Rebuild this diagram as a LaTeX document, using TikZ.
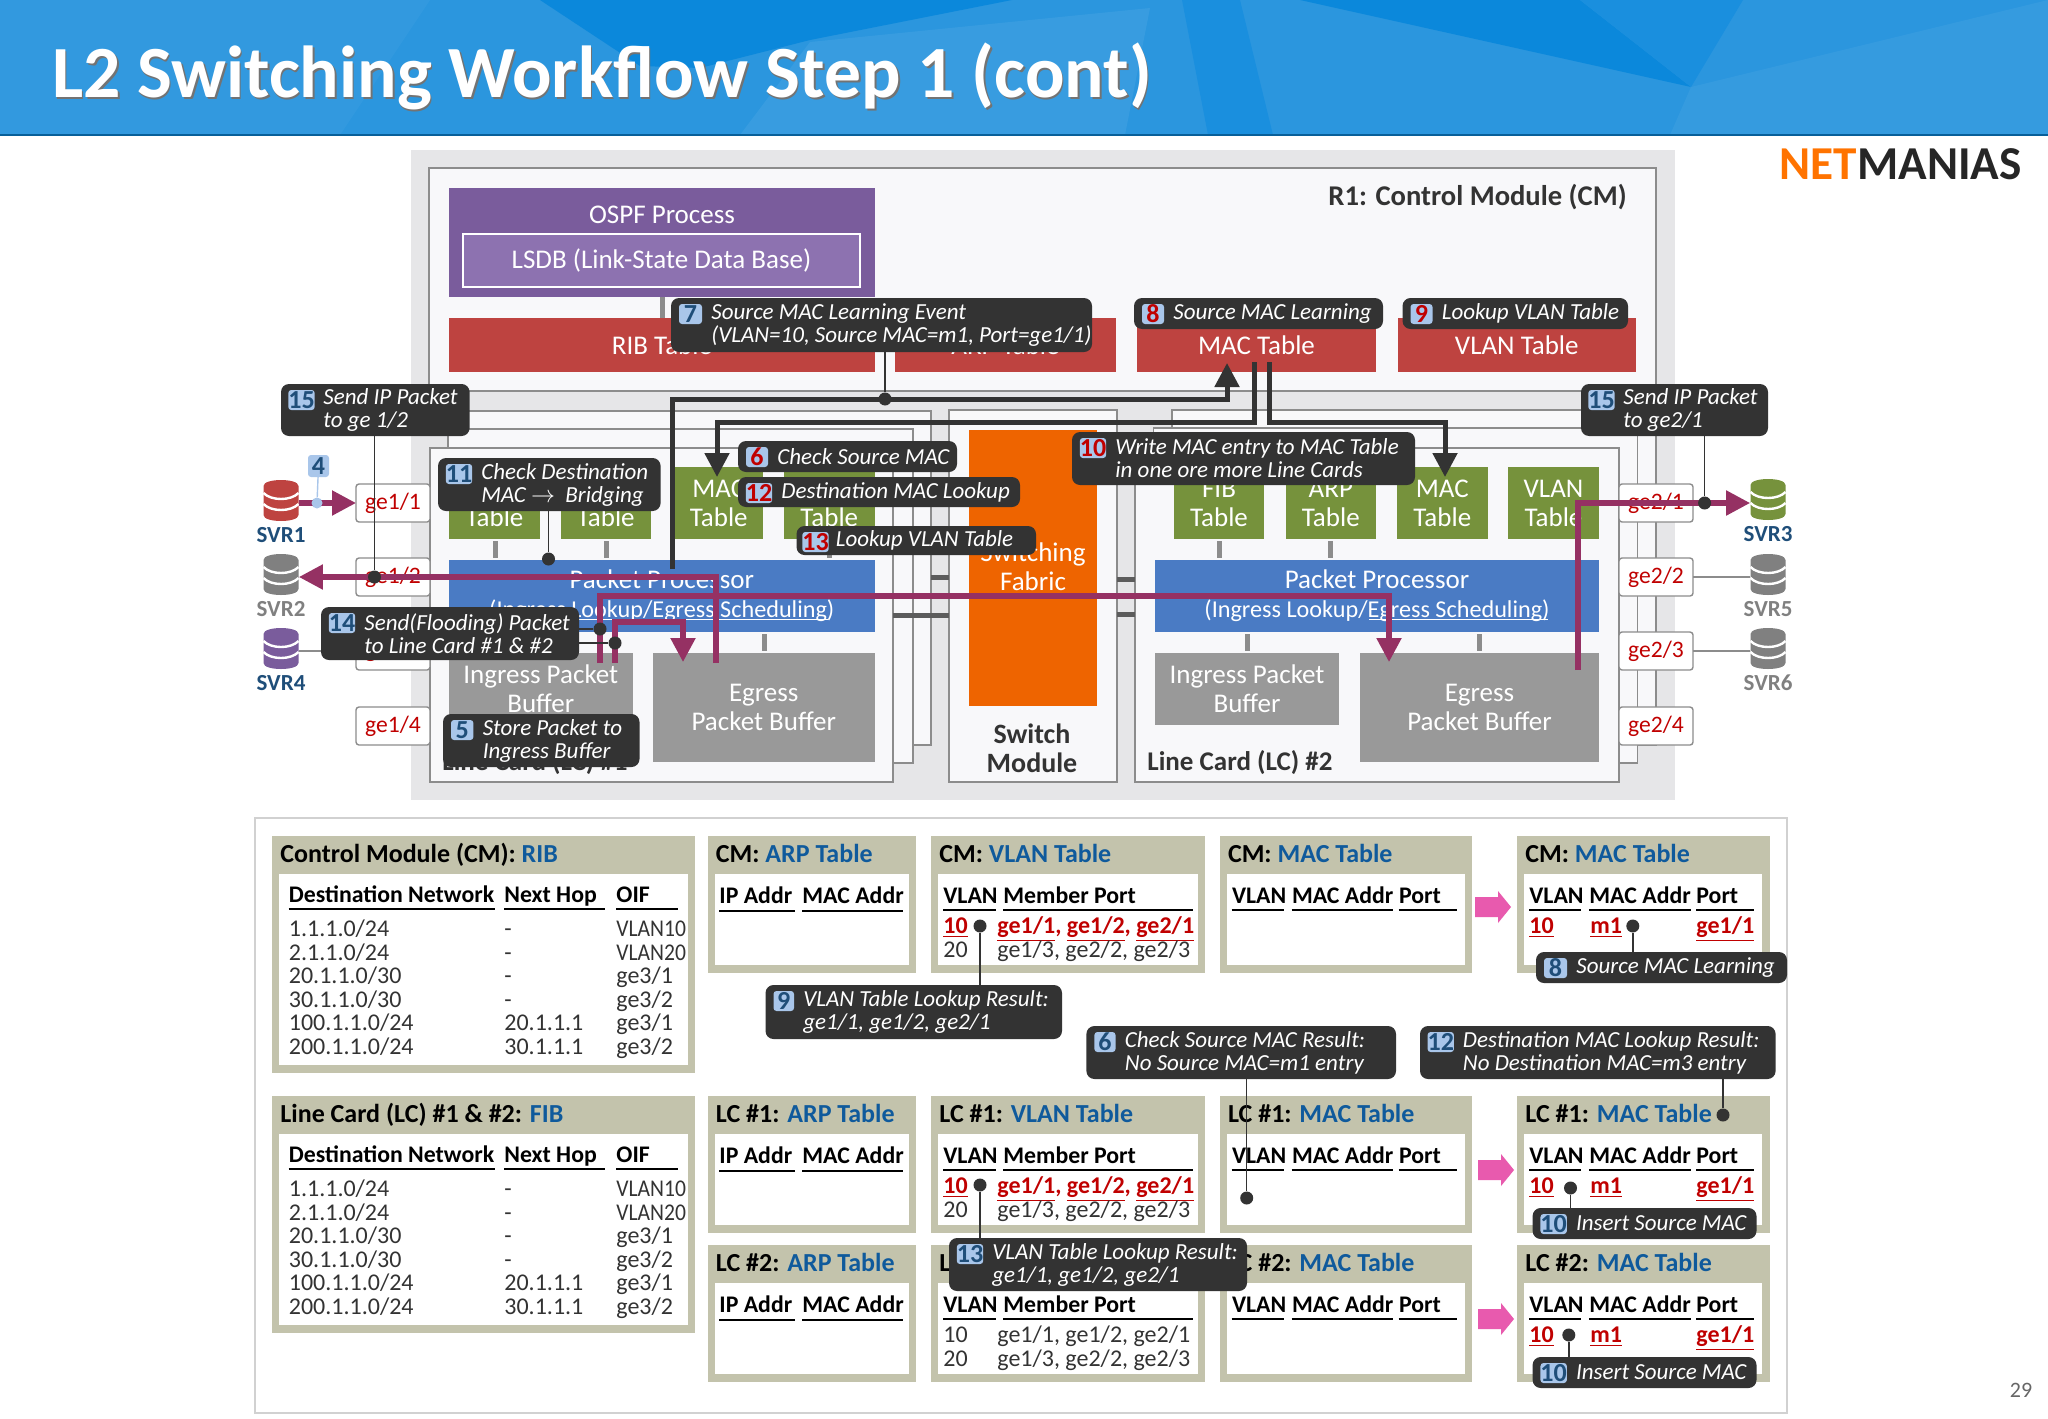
\documentclass[tikz,border=0pt]{standalone}
\usepackage{fontspec}
\setmainfont{Carlito}
\usepackage{graphicx}
\usepackage{tikz}
\usetikzlibrary{arrows.meta, positioning, calc}
\usepackage{xcolor}
\definecolor{hdrblue}{HTML}{2B96DE}
\definecolor{hdrdark}{HTML}{0B88DB}
\definecolor{hdrmid}{HTML}{1A8FDE}
\definecolor{hdrlight}{HTML}{48A5E3}
\definecolor{panelgray}{HTML}{E6E6E8}
\definecolor{cardwhite}{HTML}{F8F8FA}
\definecolor{edgegray}{HTML}{8C8C8C}
\definecolor{ospfpurple}{HTML}{7A5C9C}
\definecolor{lsdbpurple}{HTML}{8D72B0}
\definecolor{tablered}{HTML}{BE4340}
\definecolor{tablegreen}{HTML}{76923C}
\definecolor{procblue}{HTML}{4A7BC4}
\definecolor{buffergray}{HTML}{999999}
\definecolor{fabricorange}{HTML}{EE6400}
\definecolor{flowpink}{HTML}{953163}
\definecolor{coldark}{HTML}{333333}
\definecolor{badgeblue}{HTML}{A9C6EA}
\definecolor{numblue}{HTML}{1F4E79}
\definecolor{numred}{HTML}{C00000}
\definecolor{paneltan}{HTML}{C3C3AC}
\definecolor{titleblue}{HTML}{0F5A9C}
\definecolor{arrowpink}{HTML}{E85AAE}
\tikzset{
  blkbase/.style={inner sep=0pt, outer sep=0pt, align=center},
  card/.style={draw=edgegray, line width=0.8pt, fill=cardwhite},
  whitetxt/.style={text=white, font=\fontsize{13.5}{14.5}\selectfont},
  redblk/.style={fill=tablered, whitetxt},
  greenblk/.style={fill=tablegreen, whitetxt},
  procblk/.style={fill=procblue, whitetxt},
  bufblk/.style={fill=buffergray, whitetxt},
  portbox/.style={draw=edgegray, line width=0.7pt, fill=white, rounded corners=1.5pt, text=numred, font=\fontsize{11.8}{14}\selectfont},
  stub/.style={draw=edgegray, line width=2.5pt},
  bar/.style={draw=coldark!80, line width=2.5pt},
  flow/.style={draw=flowpink, line width=2.6pt},
  flowtip/.style={-{Triangle[length=12pt, width=12pt]}},
  ctl/.style={draw=coldark, line width=2.5pt},
  ctltip/.style={-{Triangle[length=12pt, width=12pt]}},
  leader/.style={draw=coldark, line width=0.7pt},
  dot/.style={circle, fill=coldark, inner sep=0pt, minimum size=6.5pt},
  coltxt/.style={inner sep=0pt, anchor=base west, yshift=-3.75pt, font=\fontsize{12}{12}\selectfont, text=coldark},
  headtxt/.style={inner sep=0pt, anchor=base west, yshift=-3.75pt, font=\fontsize{11.9}{12}\selectfont\bfseries, text=black},
  redtxt/.style={inner sep=0pt, anchor=base west, yshift=-3.75pt, font=\fontsize{12}{12}\selectfont\bfseries, text=numred},
  headrule/.style={draw=black, line width=1.2pt},
  svrlabel/.style={inner sep=0pt, font=\fontsize{11.5}{12}\selectfont\bfseries},
  tabletitle/.style={inner sep=0pt, anchor=base west, yshift=-4pt, font=\fontsize{13}{14}\selectfont\bfseries, text=black},
}
\newcommand{\blk}[7][]{%
  \node[blkbase, minimum width={(#5-(#3))*0.5pt}, minimum height={(#6-(#4))*0.5pt}, #1]
    (#2) at ({(#3+#5)/2},{(#4+#6)/2}) {#7};}
\newcommand{\callout}[9]{%
  \blk[fill=coldark, rounded corners=4pt]{#1}{#2}{#3}{#4}{#5}{}
  \blk[fill=badgeblue, rounded corners=1.5pt, text=#6, font=\fontsize{13}{13}\selectfont\bfseries]{#1n}{#2+8}{#3+6}{#8-9}{#3+26}{#7}
  \node[inner sep=0pt, anchor=west, align=left, text=white, font=\fontsize{11.5}{11.5}\selectfont\itshape] (#1t) at (#8,{(#3+#5)/2}) {#9};}
\newcommand{\svr}[5]{%
  \node[inner sep=0pt, minimum width=17.5pt, minimum height=20.5pt] (#1) at (#2,#3+20.5) {};
  \fill[#4] (#2-17.5,#3+6) -- (#2-17.5,#3+35) .. controls (#2-17.5,#3+43) and (#2+17.5,#3+43) .. (#2+17.5,#3+35)
    -- (#2+17.5,#3+6) .. controls (#2+17.5,#3-2) and (#2-17.5,#3-2) .. cycle;
  \foreach \bd in {13,24}{
    \draw[white, line width=1.2pt] (#2-17.5,#3+\bd) .. controls (#2-10,#3+\bd+8) and (#2+10,#3+\bd+8) .. (#2+17.5,#3+\bd);
  }
  \node[svrlabel, text=#5] (#1l) at (#2,#3+55) {\MakeUppercase{#1}};}
\newcommand{\tpanel}[6]{%
  \blk[fill=paneltan]{#1}{#2}{#3}{#4}{#3+#5}{}
  \blk[fill=white]{#1in}{#2+7}{#3+38}{#4-7.5}{#3+#5-8}{}
  \node[tabletitle] (#1ttl) at (#2+8,#3+18.5) {#6};}
\newcommand{\arptable}[3]{%
  \tpanel{#1}{707.5}{#2}{916}{137}{#3: \textcolor{titleblue}{ARP Table}}
  \node[headtxt] (#1ha) at (719,#2+60) {IP Addr};
  \node[headtxt] (#1hb) at (802,#2+60) {MAC Addr};
  \draw[headrule] (719,#2+75) -- (795,#2+75) (802,#2+75) -- (903,#2+75);}
\newcommand{\vlantable}[5]{%
  \tpanel{#1}{931}{#2}{1205}{137}{#3: \textcolor{titleblue}{VLAN Table}}
  \node[headtxt] (#1ha) at (943,#2+60) {VLAN};
  \node[headtxt] (#1hb) at (1003,#2+60) {Member Port};
  \draw[headrule] (943,#2+74) -- (996,#2+74) (1003,#2+74) -- (1193,#2+74);
  \node[#4] (#1ra) at (943,#2+90) {#5{10}};
  \node[#4] (#1rb) at (997,#2+90) {#5{ge1/1}, #5{ge1/2}, #5{ge2/1}};
  \node[coltxt] (#1rc) at (943,#2+114) {20};
  \node[coltxt] (#1rd) at (997,#2+114) {ge1/3, ge2/2, ge2/3};}
\newcommand{\mactable}[4]{%
  \tpanel{#1}{#2}{#3}{#2+252.5}{137}{#4: \textcolor{titleblue}{MAC Table}}
  \node[headtxt] (#1ha) at (#2+12,#3+60) {VLAN};
  \node[headtxt] (#1hb) at (#2+72,#3+60) {MAC Addr};
  \node[headtxt] (#1hc) at (#2+179,#3+60) {Port};
  \draw[headrule] (#2+12,#3+74) -- (#2+64,#3+74) (#2+72,#3+74) -- (#2+173.5,#3+74) (#2+179,#3+74) -- (#2+237,#3+74);}
\newcommand{\macentry}[3]{%
  \node[redtxt] (#1ra) at (#2+12,#3+90) {\underline{10}};
  \node[redtxt] (#1rb) at (#2+73,#3+90) {\underline{m1}};
  \node[redtxt] (#1rc) at (#2+179,#3+90) {\underline{ge1/1}};}
\newcommand{\pinkarrow}[3]{%
  \fill[arrowpink] (#2,#3+6) -- (#2+23,#3+6) -- (#2+23,#3) -- (#2+36,#3+16) -- (#2+23,#3+32) -- (#2+23,#3+26) -- (#2,#3+26) -- cycle;
  \coordinate (#1) at (#2,#3);}
\begin{document}
\begin{tikzpicture}[x=0.5pt, y=-0.5pt]
  \useasboundingbox (0,0) rectangle (2048,1418);
  % title band
  \fill[hdrblue] (0,0) rectangle (2048,135);
  \fill[hdrlight, opacity=.45] (810,42) -- (1150,8) -- (1125,135) -- (740,135) -- cycle;
  \fill[hdrdark] (540,0) -- (1012,0) -- (810,40) -- (700,68) -- (640,66) -- cycle;
  \fill[hdrmid] (1182,0) -- (1240,0) -- (1273,135) -- (1208,135) -- cycle;
  \fill[hdrdark] (1300,0) -- (1580,0) -- (1691,87) -- cycle;
  \fill[hdrmid] (1580,0) -- (1743,0) -- (1691,87) -- cycle;
  \fill[hdrlight, opacity=.35] (1691,87) -- (2048,0) -- (2048,135) -- (1670,135) -- cycle;
  \fill[hdrlight, opacity=.25] (0,0) -- (430,0) -- (340,135) -- (0,135) -- cycle;
  \draw[hdrdark!70!black, line width=0.6pt] (0,135) -- (2048,135);
  \node[inner sep=0pt, anchor=west, text=black!55, font=\fontsize{36.8}{38}\selectfont\bfseries] (titleshadow) at (53.5,78) {L2 Switching Workflow Step 1 (cont)};
  \node[inner sep=0pt, anchor=west, text=white, font=\fontsize{36.8}{38}\selectfont\bfseries] (title) at (52,76) {L2 Switching Workflow Step 1 (cont)};
  \node[inner sep=0pt, anchor=east, font=\fontsize{23.6}{24}\selectfont\bfseries] (logo) at (2022,164) {\textcolor{orange!90!red}{NET}\textcolor{black!85}{MANIAS}};
  \node[inner sep=0pt, text=black!60, font=\fontsize{11}{12}\selectfont] (pageno) at (2021,1390) {29};
  % router panel
  \fill[panelgray] (411,150) rectangle (1675,800);
  \blk[card]{cm}{429}{168}{1656}{391}{}
  \node[inner sep=0pt, anchor=east, text=coldark, font=\fontsize{14.3}{15}\selectfont\bfseries] (cmlabel) at (1627,197) {R1: Control Module (CM)};
  \blk[fill=ospfpurple]{ospf}{449}{188}{875}{297}{}
  \node[inner sep=0pt, whitetxt] (ospft) at (662,215) {OSPF Process};
  \blk[fill=lsdbpurple, draw=white, line width=0.8pt, whitetxt]{lsdb}{463}{234}{860}{287}{LSDB (Link-State Data Base)}
  \draw[stub] (662,297) -- (662,318);
  \foreach \nm/\xa/\xb/\tx in {rib/449/875/RIB Table, arp/895/1116/ARP Table, mact/1137/1376/MAC Table, vlant/1397.5/1636/VLAN Table}{
    \blk[redblk]{\nm}{\xa}{318}{\xb}{372}{\tx}
  }
  % stacked line cards
  \blk[card]{lca}{466}{411}{931}{745}{}
  \blk[card]{lcb}{448}{429}{913}{763}{}
  \blk[card]{lcc}{1172}{410}{1656}{745}{}
  \blk[card]{lcd}{1153.5}{428}{1637.5}{763}{}
  \blk[card]{sw}{949}{410}{1117}{782}{}
  \blk[card]{lc1}{430}{448}{893}{782}{}
  \blk[card]{lc2}{1135}{448}{1619}{782}{}
  \foreach \xa/\xb/\yy in {931/949/577, 893/949/615, 1117/1135/579, 1117/1135/614}{
    \draw[bar] (\xa,\yy) -- (\xb,\yy);
  }
  % ports
  \foreach \n/\yy in {1/484, 2/558, 3/632, 4/707}{
    \blk[portbox]{pa\n}{356}{\yy}{430}{\yy+38}{ge1/\n}
    \blk[portbox]{pb\n}{1619}{\yy}{1693}{\yy+38}{ge2/\n}
  }
  % switch module
  \blk[fill=fabricorange]{fabric}{969}{430}{1097}{706}{}
  \node[inner sep=0pt, align=center, whitetxt] (fabrict) at (1033,567) {Switching\\Fabric};
  \node[inner sep=0pt, align=center, text=coldark, font=\fontsize{14}{14.5}\selectfont\bfseries] (swlabel) at (1032,748) {Switch\\Module};
  % line card #1
  \foreach \nm/\xa/\xb/\tx in {fiba/449/540/FIB, arpa/560.5/651/ARP, maca/675/762.5/MAC, vlana/784/874.5/VLAN}{
    \blk[greenblk]{\nm}{\xa}{467}{\xb}{539}{\tx\\Table}
  }
  \foreach \xa in {495,606,829}{
    \draw[stub] (\xa,541) -- (\xa,558);
  }
  \blk[procblk]{ppa}{449}{560}{874.5}{632}{Packet Processor\\\fontsize{12.1}{14.5}\selectfont(Ingress Lookup/Egress Scheduling)}
  \foreach \xa in {541,764}{
    \draw[stub] (\xa,634) -- (\xa,651);
  }
  \blk[bufblk]{iba}{449}{653}{632.5}{725}{Ingress Packet\\Buffer}
  \blk[bufblk]{eba}{653}{653}{874.5}{762}{Egress\\Packet Buffer}
  \node[inner sep=0pt, anchor=west, text=coldark, font=\fontsize{13.5}{14}\selectfont\bfseries] (lc1label) at (442,763) {Line Card (LC) \#1};
  % line card #2
  \foreach \nm/\xa/\xb/\tx in {fibb/1174/1264/FIB, arpb/1285.6/1376/ARP, macb/1397/1487.6/MAC, vlanb/1508/1599/VLAN}{
    \blk[greenblk]{\nm}{\xa}{467}{\xb}{539}{\tx\\Table}
  }
  \foreach \xa in {1219.6,1330}{
    \draw[stub] (\xa,541) -- (\xa,558);
  }
  \blk[procblk]{ppb}{1155}{560}{1599}{632}{Packet Processor\\\fontsize{12.1}{14.5}\selectfont(Ingress Lookup/Egress Scheduling)}
  \foreach \xa in {1247,1479.6}{
    \draw[stub] (\xa,634) -- (\xa,651);
  }
  \blk[bufblk]{ibb}{1155}{653}{1339}{725}{Ingress Packet\\Buffer}
  \blk[bufblk]{ebb}{1360}{653}{1599}{762}{Egress\\Packet Buffer}
  \node[inner sep=0pt, anchor=west, text=coldark, font=\fontsize{13.5}{14}\selectfont\bfseries] (lc2label) at (1147,763) {Line Card (LC) \#2};
  \draw[white, line width=0.5pt] (575,619) -- (828,619) (1369,619) -- (1548,619);
  % servers
  \svr{svr1}{281}{480}{tablered}{numblue}
  \svr{svr2}{281}{554}{black!50}{black!50}
  \svr{svr4}{281}{628}{ospfpurple}{numblue}
  \svr{svr3}{1768}{479}{tablegreen}{numblue}
  \svr{svr5}{1768}{554}{black!50}{black!50}
  \svr{svr6}{1768}{628}{black!50}{black!50}
  \draw[edgegray, line width=0.7pt] (svr4.east |- pa3) -- (pa3.west);
  \draw[edgegray, line width=0.7pt] (pb2.east) -- (svr5.west |- pb2);
  \draw[edgegray, line width=0.7pt] (pb3.east) -- (svr6.west |- pb3);
  % control paths
  \coordinate (evtout) at (672,569);
  \coordinate (macina) at (717,477);
  \coordinate (macinb) at (1445,477);
  \coordinate (macup) at (1227,363);
  \coordinate (macouta) at (1254,362);
  \coordinate (macoutb) at (1269,362);
  \draw[ctl, ctltip] (evtout) -- (672,399) -- (1227,399) -- (macup);
  \draw[ctl, ctltip] (macouta) -- (1254,422) -- (717,422) -- (macina);
  \draw[ctl, ctltip] (macoutb) -- (1269,422) -- (1445,422) -- (macinb);
  % packet flows
  \coordinate (srca) at (716,663);
  \coordinate (srcb) at (600,663);
  \coordinate (srcc) at (615,663);
  \coordinate (srcd) at (1578,670);
  \coordinate (dsta) at (1389,662);
  \coordinate (dstb) at (683,662);
  \draw[flow, flowtip] (svr1.east |- pa1) -- (pa1.west);
  \draw[flow, flowtip] (srca) -- (716,577) -- (svr2.east |- pa2);
  \draw[flow, flowtip] (srcb) -- (600,596) -- (1389,596) -- (dsta);
  \draw[flow, flowtip] (srcc) -- (615,622) -- (683,622) -- (dstb);
  \draw[flow, flowtip] (srcd) -- (1578,503) -- (svr3.west |- pb1);
  % step 4
  \blk[fill=badgeblue, rounded corners=1.5pt, text=numblue, font=\fontsize{13}{13}\selectfont\bfseries]{stepf}{308}{455}{329}{477}{4}
  \node[circle, fill=badgeblue, inner sep=0pt, minimum size=5.5pt] (stepfd) at (317,503) {};
  \draw[badgeblue, line width=0.7pt] (stepf) -- (stepfd);
  % callouts on the router
  \callout{cfifl}{281}{384}{469.6}{436}{numblue}{15}{323}{Send IP Packet\\to ge 1/2}
  \callout{cfifr}{1581}{384}{1768}{436}{numblue}{15}{1623}{Send IP Packet\\to ge2/1}
  \callout{celev}{438}{458}{660.6}{511}{numblue}{11}{481}{Check Destination\\MAC $\rightarrow$ \ Bridging}
  \callout{csix}{738}{441}{957}{472}{numred}{6}{777}{Check Source MAC}
  \callout{ctwe}{738}{477}{1020}{507}{numred}{12}{781}{Destination MAC Lookup}
  \callout{cthi}{796.5}{526}{1036}{555}{numred}{13}{835.5}{Lookup VLAN Table}
  \callout{cfou}{321}{607}{579}{660}{numblue}{14}{364}{Send(Flooding) Packet\\to Line Card \#1 \& \#2}
  \callout{cfiv}{443}{714}{639.5}{767}{numblue}{5}{482.4}{Store Packet to\\Ingress Buffer}
  \callout{cten}{1072}{432}{1415}{485}{numred}{10}{1115}{Write MAC entry to MAC Table\\in one ore more Line Cards}
  \callout{csev}{671}{298}{1092}{352}{numblue}{7}{711}{Source MAC Learning Event\\(VLAN=10, Source MAC=m1, Port=ge1/1)}
  \callout{ceig}{1134}{298}{1383}{329}{numred}{8}{1173}{Source MAC Learning}
  \callout{cnin}{1402.5}{298}{1628}{329}{numred}{9}{1441.5}{Lookup VLAN Table}
  \foreach \nm/\xa/\yy in {dfifl/374.5/577, dfifr/1704.6/503, delev/548.5/559, dsev/885/399, dfoua/600/629, dfoub/615/643}{
    \node[dot] (\nm) at (\xa,\yy) {};
  }
  \draw[leader] (dfifl) -- (dfifl |- cfifl.south);
  \draw[leader] (dfifr) -- (dfifr |- cfifr.south);
  \draw[leader] (delev) -- (delev |- celev.south);
  \draw[leader] (dsev) -- (dsev |- csev.south);
  \draw[leader] (dfoua) -- (dfoua -| cfou.east);
  \draw[leader] (dfoub) -- (dfoub -| cfou.east);
  % tables
  \blk[draw=black!18, line width=1.2pt, fill=white]{tables}{255}{818}{1787}{1413}{}
  \foreach \nm/\yy/\ttl in {rib/836/{Control Module (CM): \textcolor{titleblue}{RIB}}, fib/1096/{Line Card (LC) \#1 \& \#2: \textcolor{titleblue}{FIB}}}{
    \tpanel{\nm}{272}{\yy}{695}{237}{\ttl}
    \node[headtxt] (\nm ha) at (288.5,\yy+59) {Destination Network};
    \node[headtxt] (\nm hb) at (504,\yy+59) {Next Hop};
    \node[headtxt] (\nm hc) at (616,\yy+59) {OIF};
    \draw[headrule] (288.5,\yy+73) -- (494.5,\yy+73) (504,\yy+73) -- (605,\yy+73) (616,\yy+73) -- (678,\yy+73);
    \foreach \dst/\nh/\oif [count=\r] in {{1.1.1.0/24}/-/{\scalebox{.9}[1]{VLAN10}}, {2.1.1.0/24}/-/{\scalebox{.9}[1]{VLAN20}}, {20.1.1.0/30}/-/{ge3/1}, {30.1.1.0/30}/-/{ge3/2}, {100.1.1.0/24}/20.1.1.1/{ge3/1}, {200.1.1.0/24}/30.1.1.1/{ge3/2}}{
      \node[coltxt] (\nm d\r) at (288.5,{\yy+93+(\r-1)*23.6}) {\dst};
      \node[coltxt] (\nm n\r) at (504,{\yy+93+(\r-1)*23.6}) {\nh};
      \node[coltxt] (\nm o\r) at (616,{\yy+93+(\r-1)*23.6}) {\oif};
    }
  }
  \arptable{arpc}{836}{CM}
  \arptable{arpx}{1096}{LC \#1}
  \arptable{arpy}{1245}{LC \#2}
  \vlantable{vlc}{836}{CM}{redtxt}{\underline}
  \vlantable{vlx}{1096}{LC \#1}{redtxt}{\underline}
  \vlantable{vly}{1245}{LC \#2}{coltxt}{\relax}
  \mactable{mca}{1219.6}{836}{CM}
  \mactable{mcb}{1517}{836}{CM}
  \mactable{mxa}{1219.6}{1096}{LC \#1}
  \mactable{mxb}{1517}{1096}{LC \#1}
  \mactable{mya}{1219.6}{1245}{LC \#2}
  \mactable{myb}{1517}{1245}{LC \#2}
  \macentry{mcb}{1517}{836}
  \macentry{mxb}{1517}{1096}
  \macentry{myb}{1517}{1245}
  \pinkarrow{pka}{1475}{891}
  \pinkarrow{pkb}{1478}{1154}
  \pinkarrow{pkc}{1478}{1303}
  % callouts on the tables
  \callout{tnin}{765.5}{985}{1062}{1039}{numblue}{9}{803}{VLAN Table Lookup Result:\\ge1/1, ge1/2, ge2/1}
  \callout{tsix}{1086.4}{1026}{1396}{1079}{numblue}{6}{1124.5}{Check Source MAC Result:\\No Source MAC=m1 entry}
  \callout{ttwe}{1420}{1026}{1775.6}{1079}{numblue}{12}{1462.5}{Destination MAC Lookup Result:\\No Destination MAC=m3 entry}
  \callout{teig}{1536}{952}{1787}{983}{numblue}{8}{1576}{Source MAC Learning}
  \callout{tten}{1532.6}{1208}{1756.5}{1239}{numblue}{10}{1575.7}{Insert Source MAC}
  \callout{ttnb}{1532.6}{1357}{1756.5}{1388}{numblue}{10}{1575.7}{Insert Source MAC}
  \callout{tthi}{949}{1238}{1247}{1291}{numblue}{13}{992}{VLAN Table Lookup Result:\\ge1/1, ge1/2, ge2/1}
  \foreach \nm/\xa/\yy in {dtnin/980/926, dtsix/1246.7/1198, dttwe/1723/1115, dteig/1632.8/926, dtten/1570.5/1188, dttnb/1568.8/1335, dtthi/980/1185}{
    \node[dot] (\nm) at (\xa,\yy) {};
  }
  \draw[leader] (dtnin) -- (dtnin |- tnin.north);
  \draw[leader] (dtsix) -- (dtsix |- tsix.south);
  \draw[leader] (dttwe) -- (dttwe |- ttwe.south);
  \draw[leader] (dteig) -- (dteig |- teig.north);
  \draw[leader] (dtten) -- (dtten |- tten.north);
  \draw[leader] (dttnb) -- (dttnb |- ttnb.north);
  \draw[leader] (dtthi) -- (dtthi |- tthi.north);
\end{tikzpicture}
\end{document}
